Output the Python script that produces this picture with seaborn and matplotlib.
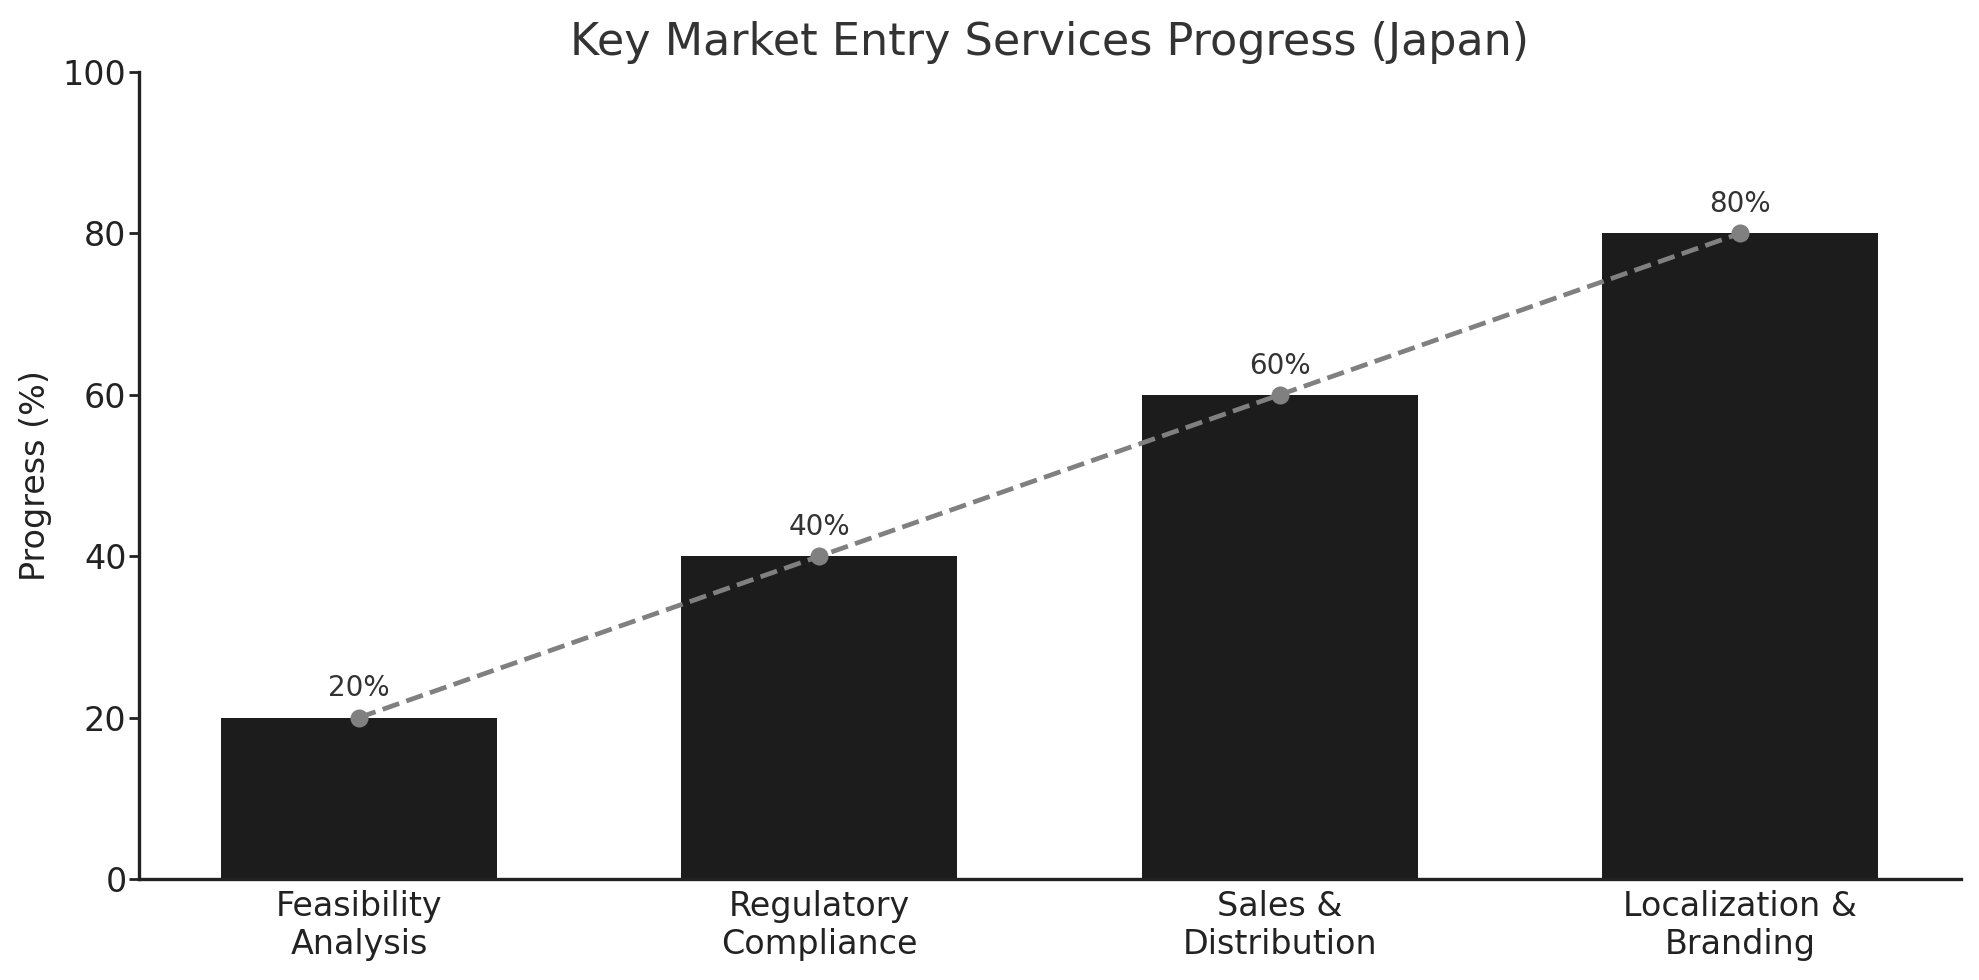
import matplotlib
matplotlib.use("Agg")
import matplotlib.pyplot as plt
import seaborn as sns
import pandas as pd

categories = ["Feasibility\nAnalysis", "Regulatory\nCompliance", "Sales &\nDistribution", "Localization &\nBranding"]
progress = [20, 40, 60, 80]
yticks = [0, 20, 40, 60, 80, 100]

sns.set_theme(style="ticks")
plt.rcParams['font.family'] = ['DejaVu Sans']

df = pd.DataFrame({"Service": categories, "Progress": progress})

fig = plt.figure(figsize=(9.895, 4.9), dpi=200)
ax = fig.add_axes([139/1979, 1 - 879/980, (1961-139)/1979, (879-72)/980])

sns.barplot(data=df, x="Service", y="Progress", color="#1c1c1c", width=0.6, saturation=1,
            linewidth=0, ax=ax)
sns.lineplot(x=list(range(len(categories))), y=progress, ax=ax, color="gray", linestyle="--",
             linewidth=1.7, marker="o", markersize=6.5, markeredgewidth=0)

for i, v in enumerate(progress):
    ax.annotate(f"{v}%", (i, v), xytext=(0, 5.5), textcoords="offset points",
                ha="center", va="bottom", fontsize=10, color="#333333")

ax.set_xlim(-0.478, 3.48)
ax.set_ylim(0, 100)
ax.set_yticks(yticks)
ax.set_xlabel("")
ax.set_ylabel("Progress (%)", fontsize=12, color="#222222", labelpad=4)
ax.set_title("Key Market Entry Services Progress (Japan)", fontsize=16, color="#333333", pad=6)
ax.tick_params(axis="x", length=0, labelsize=12, labelcolor="#222222", pad=4)
ax.tick_params(axis="y", length=3.5, width=1, labelsize=12, labelcolor="#222222", color="#222222", pad=1)
for s in ["top", "right"]:
    ax.spines[s].set_visible(False)
for s in ["left", "bottom"]:
    ax.spines[s].set_color("#222222")
    ax.spines[s].set_linewidth(1.2)

fig.savefig("out.png", dpi=200)
